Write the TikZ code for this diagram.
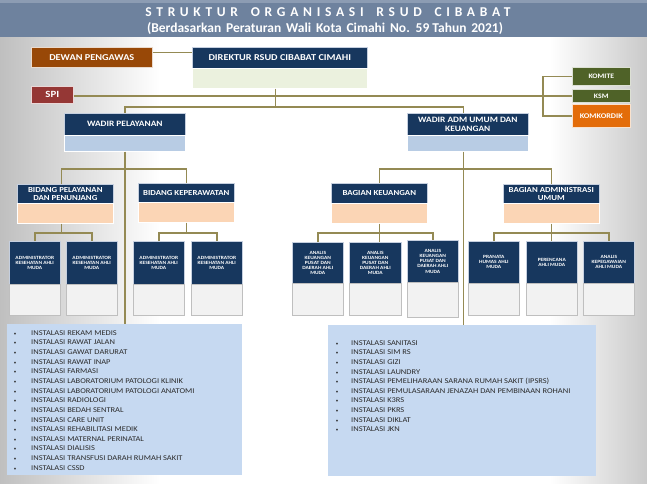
\documentclass[tikz,border=0pt]{standalone}
\usepackage{fontspec}
\setmainfont{Carlito}
\newfontfamily\widefont[FakeStretch=1.14]{Carlito}
\usetikzlibrary{calc}
\definecolor{navy}{HTML}{17375E}
\definecolor{hdrline}{HTML}{C5CFDF}
\definecolor{conncol}{HTML}{948A54}
\definecolor{band}{HTML}{6E829E}
\definecolor{bandtop}{HTML}{8C9CB3}
\definecolor{brownbox}{HTML}{984807}
\definecolor{spired}{HTML}{953735}
\definecolor{olivebox}{HTML}{4F6228}
\definecolor{orangebox}{HTML}{E36C09}
\definecolor{dirsub}{HTML}{EBF1DE}
\definecolor{lblue}{HTML}{B8CCE4}
\definecolor{peach}{HTML}{FBD5B5}
\definecolor{greybox}{HTML}{F2F2F2}
\definecolor{greyline}{HTML}{BFBFBF}
\definecolor{instfill}{HTML}{C6D9F1}
\definecolor{listtext}{HTML}{2B2B2B}
\begin{document}
\begin{tikzpicture}[x=1pt,y=-1pt,
  sz/.style 2 args={minimum width=#1pt, minimum height=#2pt},
  basebox/.style={inner sep=0pt, anchor=north west, align=center, text=white},
  hdr/.style={basebox, draw=hdrline, line width=0.6pt, fill=navy, font=\widefont\bfseries\fontsize{7.7}{8.6}\selectfont},
  subbox/.style={basebox, draw=white, line width=0.6pt},
  colbox/.style={basebox, draw=white!80!#1, line width=0.6pt, fill=#1},
  small/.style={hdr, font=\widefont\bfseries\fontsize{4.8}{5.1}\selectfont},
  grey/.style={basebox, fill=greybox, draw=greyline, line width=1.3pt},
  conn/.style={draw=conncol, line width=1.4pt},
  item/.style={anchor=base west, inner sep=0pt, text=listtext, font=\widefont\fontsize{7.4}{8}\selectfont},
  bul/.style={anchor=base, inner sep=0pt, text=listtext, font=\fontsize{5}{6}\selectfont}]
\useasboundingbox (0,0) rectangle (647,483);
% background
\fill[white] (0,0) rectangle (647,483);
\shade[left color=gray!50, right color=white] (0,37) rectangle (160,483);
\shade[left color=white, right color=gray!42] (550,37) rectangle (647,483);
\fill[band] (0,0) rectangle (647,37);
\fill[bandtop] (0,0) rectangle (647,3);
\node[text=white, inner sep=0pt, font=\bfseries\fontsize{13.5}{13.5}\selectfont\addfontfeature{LetterSpace=35}] (title) at (328,12) {STRUKTUR\hspace{5pt} ORGANISASI\hspace{5pt} RSUD\hspace{5pt} CIBABAT};
\node[text=white, inner sep=0pt, font=\bfseries\fontsize{13.5}{13.5}\selectfont] (subtitle) at (325,29) {(Berdasarkan\hspace{1.8pt} Peraturan\hspace{1.8pt} Wali\hspace{1.8pt} Kota\hspace{1.8pt} Cimahi\hspace{1.8pt} No.\hspace{1.8pt} 59 Tahun\hspace{1.8pt} 2021)};
% top level
\node[colbox=brownbox, sz={121}{20}, font=\widefont\bfseries\fontsize{9}{9}\selectfont] (dewan) at (31,47) {DEWAN PENGAWAS};
\node[hdr, sz={175}{21}, font=\widefont\bfseries\fontsize{9}{9}\selectfont] (dir) at (192,47) {DIREKTUR RSUD CIBABAT CIMAHI};
\node[subbox, fill=dirsub, sz={175}{20}] (dirs) at (192,68) {};
\node[colbox=spired, sz={42}{17}, font=\widefont\bfseries\fontsize{9.5}{9.5}\selectfont] (spi) at (31,86) {SPI};
\node[colbox=olivebox, sz={58}{18}, font=\widefont\bfseries\fontsize{6.8}{7}\selectfont] (komite) at (572,67) {KOMITE};
\node[colbox=olivebox, sz={58}{13}, font=\widefont\bfseries\fontsize{6.8}{7}\selectfont] (ksm) at (572,89) {KSM};
\node[colbox=orangebox, sz={58}{23}, font=\widefont\bfseries\fontsize{7.2}{7}\selectfont] (komk) at (572,104) {KOMKORDIK};
% wadir
\node[hdr, sz={121}{22}, font=\widefont\bfseries\fontsize{8.2}{9}\selectfont] (wp) at (64,113) {WADIR PELAYANAN};
\node[subbox, fill=lblue, sz={121}{16}] (wps) at (64,135) {};
\node[hdr, sz={121}{22}, font=\widefont\bfseries\fontsize{8.2}{9}\selectfont] (wa) at (407,113) {WADIR ADM UMUM DAN\\KEUANGAN};
\node[subbox, fill=lblue, sz={121}{16}] (was) at (407,135) {};
% bidang / bagian
\node[hdr, sz={96}{19}] (bpp) at (17,184) {BIDANG PELAYANAN\\DAN PENUNJANG};
\node[subbox, fill=peach, sz={96}{20}] (bpps) at (17,203) {};
\node[hdr, sz={96}{19}] (bkep) at (138,183) {BIDANG KEPERAWATAN};
\node[subbox, fill=peach, sz={96}{20}] (bkeps) at (138,202) {};
\node[hdr, sz={96}{20}] (bkeu) at (331,183) {BAGIAN KEUANGAN};
\node[subbox, fill=peach, sz={96}{20}] (bkeus) at (331,203) {};
\node[hdr, sz={96}{19}] (badm) at (503,184) {BAGIAN ADMINISTRASI\\UMUM};
\node[subbox, fill=peach, sz={96}{20}] (badms) at (503,203) {};
% functional boxes
\node[small, sz={51}{43}] (a1) at (9,241) {ADMINISTRATOR\\KESEHATAN AHLI\\MUDA};
\node[grey, sz={51}{31}] (a1s) at (9,284) {};
\node[small, sz={51}{43}] (a2) at (66,241) {ADMINISTRATOR\\KESEHATAN AHLI\\MUDA};
\node[grey, sz={51}{31}] (a2s) at (66,284) {};
\node[small, sz={51}{43}] (a3) at (133,241) {ADMINISTRATOR\\KESEHATAN AHLI\\MUDA};
\node[grey, sz={51}{31}] (a3s) at (133,284) {};
\node[small, sz={51}{43}] (a4) at (191,241) {ADMINISTRATOR\\KESEHATAN AHLI\\MUDA};
\node[grey, sz={51}{31}] (a4s) at (191,284) {};
\node[small, sz={51}{41}] (b1) at (292,242) {ANALIS\\KEUANGAN\\PUSAT DAN\\DAERAH AHLI\\MUDA};
\node[grey, sz={51}{32}] (b1s) at (292,283) {};
\node[small, sz={52}{41}] (b2) at (349,242) {ANALIS\\KEUANGAN\\PUSAT DAN\\DAERAH AHLI\\MUDA};
\node[grey, sz={52}{32}] (b2s) at (349,283) {};
\node[small, sz={51}{42}] (b3) at (407,240) {ANALIS\\KEUANGAN\\PUSAT DAN\\DAERAH AHLI\\MUDA};
\node[grey, sz={51}{35}] (b3s) at (407,282) {};
\node[small, sz={51}{42}] (c1) at (468,241) {PRANATA\\HUMAS AHLI\\MUDA};
\node[grey, sz={51}{32}] (c1s) at (468,283) {};
\node[small, sz={51}{42}] (c2) at (526,241) {PERENCANA\\AHLI MUDA};
\node[grey, sz={51}{32}] (c2s) at (526,283) {};
\node[small, sz={51}{42}] (c3) at (583,241) {ANALIS\\KEPEGAWAIAN\\AHLI MUDA};
\node[grey, sz={51}{32}] (c3s) at (583,283) {};
% instalasi boxes
\node[basebox, fill=instfill, sz={235}{151}] (inst1) at (7,324) {};
\node[basebox, fill=instfill, sz={268}{151}] (inst2) at (328,325) {};
\foreach \t [count=\i] in {REKAM MEDIS, RAWAT JALAN, GAWAT DARURAT, RAWAT INAP, FARMASI, LABORATORIUM PATOLOGI KLINIK, LABORATORIUM PATOLOGI ANATOMI, RADIOLOGI, BEDAH SENTRAL, CARE UNIT, REHABILITASI MEDIK, MATERNAL PERINATAL, DIALISIS, TRANSFUSI DARAH RUMAH SAKIT, CSSD}{
  \node[bul] (ba\i) at (15,{335.3+9.64*(\i-1)}) {•};
  \node[item] (ia\i) at (31,{335.3+9.64*(\i-1)}) {INSTALASI \t};
}
\foreach \t [count=\i] in {SANITASI, SIM RS, GIZI, LAUNDRY, {PEMELIHARAAN SARANA RUMAH SAKIT (IPSRS)}, PEMULASARAAN JENAZAH DAN PEMBINAAN ROHANI, K3RS, PKRS, DIKLAT, JKN}{
  \node[bul] (bb\i) at (337,{345.3+9.6*(\i-1)}) {•};
  \node[item] (ib\i) at (351,{345.3+9.6*(\i-1)}) {INSTALASI \t};
}
% connectors
\draw[conn] ([yshift=5pt]dewan.east) -- ([yshift=5pt]dewan.east -| dir.west);
\draw[conn] (ksm.west -| spi.east) -- (ksm.west);
\draw[conn] (komite.west) -- ++(-29,0) |- (komk.west);
\draw[conn] ([xshift=-4.5pt]dirs.south) -- ++(0,19);
\draw[conn] (wp.north) -- ++(0,-6) -| ([xshift=-4.5pt]wa.north);
\draw[conn] (wps.south) -- (wps.south |- inst1.north);
\draw[conn] ([xshift=-4.5pt]was.south) -- ([xshift=-4.5pt]was.south |- inst2.north);
\draw[conn] ([xshift=-4pt]bpp.north) -- ++(0,-15) -| (bkep.north);
\draw[conn] (bkeu.north) -- ++(0,-14) -| (badm.north);
\draw[conn] ([xshift=-4pt]bpps.south) -- ++(0,10);
\draw[conn] (a1.north) -- ++(0,-8) -| (a2.north);
\draw[conn] (bkeps.south) -- ++(0,10);
\draw[conn] (a3.north) -- ++(0,-8) -| (a4.north);
\draw[conn] (b1.north) -- ++(0,-9) -| (b3.north);
\draw[conn] (bkeus.south) -- (bkeus.south |- b2.north);
\draw[conn] (c1.north) -- ++(0,-8) -| (c3.north);
\draw[conn] (badms.south) -- (badms.south |- c2.north);
\end{tikzpicture}
\end{document}
